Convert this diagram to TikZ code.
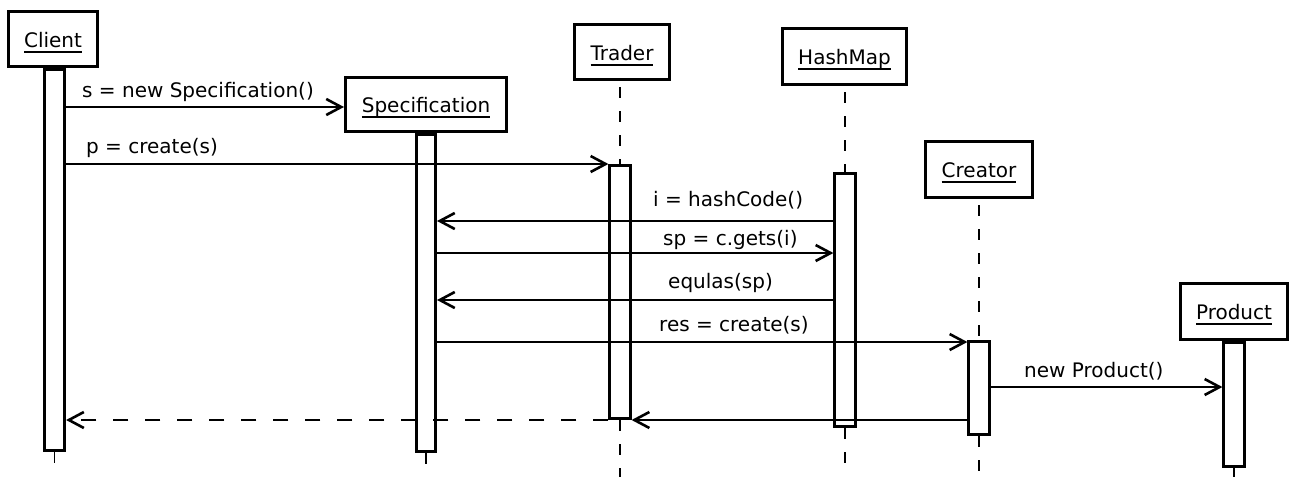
\documentclass[tikz,border=0pt]{standalone}
\usepackage{fontspec}
\setmainfont{DejaVu Sans}
\usetikzlibrary{arrows.meta}
% object name with a flat underline that does not change the box depth
\newcommand\objname[1]{\setbox0\hbox{#1}\rlap{\smash{\rule[-5.6pt]{\wd0}{1.7pt}}}\box0}
\begin{document}
\begin{tikzpicture}[x=1pt,y=-1pt,
  every node/.style={font=\fontsize{20}{24}\selectfont},
  obj/.style={draw, line width=3.3pt, fill=white, text height=16pt, text depth=0pt, inner sep=0pt},
  act/.style={draw, line width=2.7pt, fill=white, minimum width=20.5pt, inner sep=0pt},
  life/.style={line width=1.6pt, dash pattern=on 11pt off 13pt},
  lifetop/.style={life, dash phase=18pt},
  msg/.style={line width=2.3pt, -{Straight Barb[length=15pt,width=16pt,line width=2.6pt]}},
  ret/.style={msg, dash pattern=on 15pt off 17pt},
  lbl/.style={anchor=base west, inner sep=0pt}]
\useasboundingbox (0,0) rectangle (1290,477);

% participants
\node[obj, minimum width=88.7pt, minimum height=54.7pt] (client) at (53,39) {\objname{Client}};
\node[obj, minimum width=160.7pt, minimum height=53.7pt] (spec) at (426,104.5) {\objname{Specification}};
\node[obj, minimum width=94.7pt, minimum height=54.7pt] (trader) at (622,52) {\objname{Trader}};
\node[obj, minimum width=123.7pt, minimum height=55.7pt] (hashmap) at (844.5,56.5) {\objname{HashMap}};
\node[obj, minimum width=106.7pt, minimum height=55.7pt] (creator) at (979,169.5) {\objname{Creator}};
\node[obj, minimum width=106.7pt, minimum height=55.7pt] (product) at (1234,311.5) {\objname{Product}};

% lifeline ends
\coordinate (clientEnd) at (54.5,463);
\coordinate (specEnd) at (426,466);
\coordinate (traderEnd) at (620,477);
\coordinate (hashEnd) at (845,466);
\coordinate (creatorEnd) at (979,473);
\coordinate (productEnd) at (1234,477);

% activation bars
\node[act, minimum height=381.3pt] (clientAct) at (54.5,260) {};
\node[act, minimum width=19.3pt, minimum height=317.3pt] (specAct) at (426,293) {};
\node[act, minimum height=253.3pt] (traderAct) at (620,292) {};
\node[act, minimum height=253.3pt] (hashAct) at (845,300) {};
\node[act, minimum height=93.3pt] (creatorAct) at (979,388) {};
\node[act, minimum height=124.3pt] (productAct) at (1234,404.5) {};

% lifelines
\draw[lifetop] (traderAct.north |- trader.south) -- (traderAct.north);
\draw[lifetop] (hashAct.north |- hashmap.south) -- (hashAct.north);
\draw[lifetop] (creatorAct.north |- creator.south) -- (creatorAct.north);
\draw[life] (clientAct.south) -- (clientEnd);
\draw[life] (specAct.south) -- (specEnd);
\draw[life] (traderAct.south) -- (traderEnd);
\draw[life] (hashAct.south) -- (hashEnd);
\draw[life] (creatorAct.south) -- (creatorEnd);
\draw[life] (productAct.south) -- (productEnd);

% message levels
\coordinate (y1) at (0,107);
\coordinate (y2) at (0,164);
\coordinate (y3) at (0,221);
\coordinate (y4) at (0,253);
\coordinate (y5) at (0,300);
\coordinate (y6) at (0,342);
\coordinate (y7) at (0,387);
\coordinate (y8) at (0,420);

% messages
\draw[msg] (clientAct.east |- y1) -- (spec.west |- y1);
\draw[msg] (clientAct.east |- y2) -- (traderAct.west |- y2);
\draw[msg] (hashAct.west |- y3) -- (specAct.east |- y3);
\draw[msg] (specAct.east |- y4) -- (hashAct.west |- y4);
\draw[msg] (hashAct.west |- y5) -- (specAct.east |- y5);
\draw[msg] (specAct.east |- y6) -- (creatorAct.west |- y6);
\draw[msg] (creatorAct.east |- y7) -- (productAct.west |- y7);
\draw[msg] (creatorAct.west |- y8) -- (traderAct.east |- y8);
\draw[ret] (traderAct.west |- y8) -- (clientAct.east |- y8);

% message labels
\node[lbl] (l1) at (82,97) {s = new Specification()};
\node[lbl] (l2) at (86,153) {p = create(s)};
\node[lbl] (l3) at (653,206) {i = hashCode()};
\node[lbl] (l4) at (663,245) {sp = c.gets(i)};
\node[lbl] (l5) at (668,288) {equlas(sp)};
\node[lbl] (l6) at (659,331) {res = create(s)};
\node[lbl] (l7) at (1024,377) {new Product()};
\end{tikzpicture}
\end{document}
